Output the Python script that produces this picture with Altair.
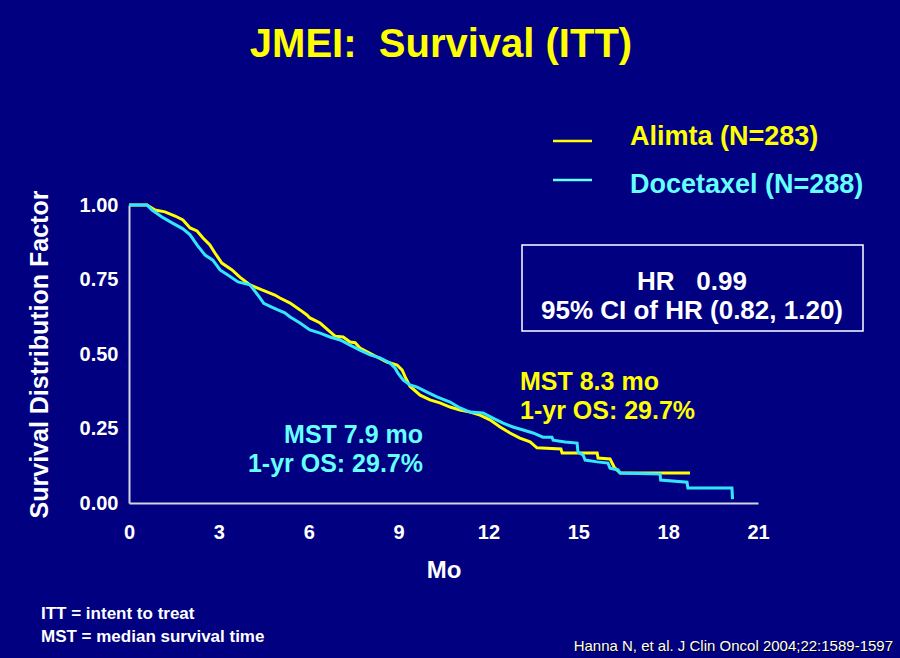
import altair as alt
import pandas as pd

# ---------------- data ----------------
series_names = ["Alimta (N=283)", "Docetaxel (N=288)"]

alimta_month = [0.0, 0.6, 0.87, 1.2, 1.54, 1.8, 2.04, 2.27, 2.47, 2.7, 2.87, 3.1, 3.44, 3.7,
                4.04, 4.44, 4.87, 5.04, 5.38, 5.71, 5.94, 6.04, 6.38, 6.64, 6.88, 7.15, 7.38,
                7.55, 7.71, 7.95, 8.28, 8.61, 8.95, 9.12, 9.22, 9.38, 9.72, 10.05, 10.38,
                10.72, 11.05, 11.39, 11.72, 12.05, 12.39, 12.72, 13.05, 13.39, 13.62, 14.42,
                14.46, 15.63, 15.66, 16.06, 16.2, 16.4, 18.73]
alimta_surv = [1.0, 1.0, 0.983, 0.977, 0.963, 0.95, 0.923, 0.913, 0.889, 0.866, 0.839, 0.805,
               0.782, 0.758, 0.732, 0.715, 0.698, 0.688, 0.671, 0.648, 0.631, 0.621, 0.604,
               0.581, 0.560, 0.557, 0.540, 0.538, 0.520, 0.507, 0.490, 0.473, 0.463, 0.446,
               0.423, 0.392, 0.362, 0.346, 0.336, 0.322, 0.312, 0.305, 0.295, 0.279, 0.255,
               0.235, 0.218, 0.205, 0.185, 0.181, 0.168, 0.168, 0.151, 0.148, 0.12, 0.101,
               0.101]

doce_month = [0.0, 0.6, 0.77, 1.1, 1.44, 1.8, 2.04, 2.27, 2.54, 2.8, 3.04, 3.3, 3.64, 4.04,
              4.3, 4.5, 4.71, 4.97, 5.2, 5.38, 5.71, 6.04, 6.38, 6.71, 7.05, 7.38, 7.71, 8.05,
              8.38, 8.71, 8.88, 8.98, 9.15, 9.38, 9.62, 9.95, 10.28, 10.72, 11.05, 11.39,
              11.82, 12.15, 12.49, 12.82, 13.16, 13.49, 13.82, 14.12, 14.16, 14.56, 14.96,
              14.99, 15.16, 15.23, 15.63, 15.99, 16.06, 16.33, 16.39, 17.73, 17.75, 18.63,
              18.66, 20.13, 20.15]
doce_surv = [1.0, 1.0, 0.983, 0.96, 0.94, 0.92, 0.90, 0.866, 0.832, 0.815, 0.782, 0.765,
             0.742, 0.732, 0.698, 0.67, 0.66, 0.648, 0.638, 0.624, 0.604, 0.581, 0.570, 0.557,
             0.547, 0.530, 0.513, 0.497, 0.487, 0.470, 0.453, 0.436, 0.413, 0.396, 0.389,
             0.372, 0.356, 0.339, 0.319, 0.305, 0.302, 0.285, 0.268, 0.255, 0.245, 0.235,
             0.221, 0.221, 0.211, 0.205, 0.201, 0.171, 0.161, 0.144, 0.138, 0.134, 0.117,
             0.111, 0.101, 0.097, 0.077, 0.070, 0.050, 0.050, 0.013]

x_ticks = [0, 3, 6, 9, 12, 15, 18, 21]
y_ticks = [0.0, 0.25, 0.5, 0.75, 1.0]

rows = []
for name, months, survs in [(series_names[0], alimta_month, alimta_surv),
                            (series_names[1], doce_month, doce_surv)]:
    for i, (m, s) in enumerate(zip(months, survs)):
        rows.append({"arm": name, "month": m, "surv": s, "i": i})
df = pd.DataFrame(rows)
one = pd.DataFrame({"k": [0]})

# ---------------- styling ----------------
BG = "#000080"
YEL = "#FFFF00"
CYAN_LINE = "#33E6FF"
CYAN_TEXT = "#66FFFF"
AXIS = "#D4D4E4"
FONT = "Liberation Sans"

W, H = 629, 298

x_enc = alt.X("month:Q",
              scale=alt.Scale(domain=[0, 21], nice=False, zero=False),
              axis=alt.Axis(values=x_ticks, format="d", title="Mo", ticks=False, grid=False,
                            labelPadding=19, titlePadding=16, labelFlush=False,
                            labelOverlap=False, titleFontSize=24))
y_enc = alt.Y("surv:Q",
              scale=alt.Scale(domain=[0, 1], nice=False),
              axis=alt.Axis(values=y_ticks, format=".2f", title="Survival Distribution Factor",
                            ticks=False, grid=False, labelPadding=11, titlePadding=27,
                            labelOverlap=False, titleFontSize=25))

lines = alt.Chart(df).mark_line(strokeWidth=3).encode(
    x=x_enc,
    y=y_enc,
    color=alt.Color("arm:N", scale=alt.Scale(domain=series_names, range=[YEL, CYAN_LINE]),
                    legend=None),
    order=alt.Order("i:Q"),
)


def txt(s, x, y, color, size, align="left", weight="bold", font=FONT):
    return alt.Chart(one).mark_text(
        text=s, align=align, baseline="alphabetic", fontSize=size,
        fontWeight=weight, font=font, color=color
    ).encode(x=alt.value(x), y=alt.value(y))


layers = [lines]
# title
layers.append(txt("JMEI:\u00a0\u00a0Survival (ITT)", 312, -148, YEL, 40, align="center"))
# legend
layers.append(alt.Chart(one).mark_rule(color=YEL, strokeWidth=2.5).encode(
    x=alt.value(424), x2=alt.value(463), y=alt.value(-64)))
layers.append(alt.Chart(one).mark_rule(color=CYAN_TEXT, strokeWidth=2.5).encode(
    x=alt.value(424), x2=alt.value(463), y=alt.value(-25)))
layers.append(txt(series_names[0], 501, -60, YEL, 27))
layers.append(txt(series_names[1], 501, -12, CYAN_TEXT, 27))
# HR box
layers.append(alt.Chart(one).mark_rect(filled=False, stroke="white", strokeWidth=1.5).encode(
    x=alt.value(393), x2=alt.value(734), y=alt.value(40), y2=alt.value(126)))
layers.append(txt("HR\u00a0\u00a0\u00a00.99", 563, 85, "white", 26, align="center"))
layers.append(txt("95% CI of HR (0.82, 1.20)", 563, 114, "white", 26, align="center"))
# MST annotations
layers.append(txt("MST 8.3 mo", 391, 185, YEL, 25))
layers.append(txt("1-yr OS: 29.7%", 391, 214, YEL, 25))
layers.append(txt("MST 7.9 mo", 294, 238, CYAN_TEXT, 25, align="right"))
layers.append(txt("1-yr OS: 29.7%", 294, 267, CYAN_TEXT, 25, align="right"))
# footnotes
layers.append(txt("ITT = intent to treat", -88, 414, "white", 17))
layers.append(txt("MST = median survival time", -88, 437, "white", 17))
layers.append(txt("Hanna N, et al. J Clin Oncol 2004;22:1589-1597", 765, 447, "black", 15,
                  align="right", weight="normal"))
layers.append(txt("Hanna N, et al. J Clin Oncol 2004;22:1589-1597", 764, 446, "white", 15,
                  align="right", weight="normal"))

chart = alt.layer(*layers).properties(
    width=W, height=H,
    padding={"left": 129, "top": 205, "right": 142, "bottom": 155},
    autosize=alt.AutoSizeParams(type="none"),
    background=BG,
).configure_view(
    strokeOpacity=0
).configure_axis(
    domainColor=AXIS, domainWidth=2,
    labelColor="white", labelFont=FONT, labelFontWeight="bold", labelFontSize=20,
    titleColor="white", titleFont=FONT, titleFontWeight="bold",
)

chart.save("out.html", embed_options={"renderer": "svg", "actions": False})
